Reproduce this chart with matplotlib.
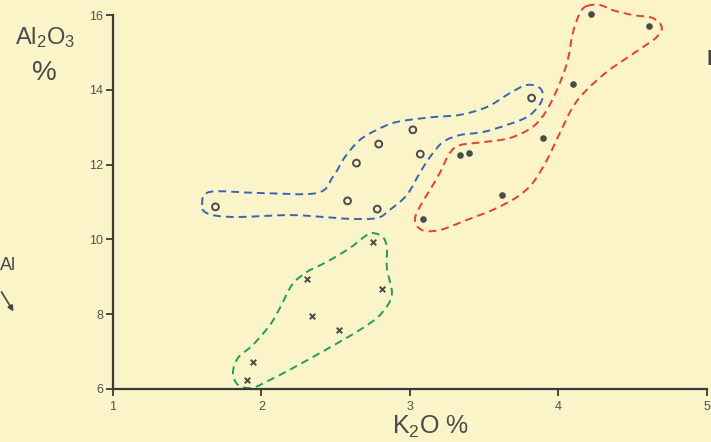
import numpy as np
import matplotlib
matplotlib.use("Agg")
import matplotlib.pyplot as plt
from matplotlib.path import Path
from matplotlib.patches import PathPatch

plt.rcParams["font.family"] = ["Liberation Sans", "DejaVu Sans"]
plt.rcParams["mathtext.default"] = "regular"

# K2O %, Al2O3 %  -- open circles (blue group)
blue_k2o = [1.69, 2.58, 2.64, 2.78, 2.79, 3.02, 3.07, 3.82]
blue_al2o3 = [10.87, 11.03, 12.04, 10.81, 12.55, 12.93, 12.28, 13.78]

# filled dots (red group)
red_k2o = [4.22, 4.61, 4.10, 3.90, 3.34, 3.40, 3.62, 3.09]
red_al2o3 = [16.03, 15.71, 14.16, 12.71, 12.26, 12.31, 11.19, 10.55]

# crosses (green group)
green_k2o = [2.75, 2.31, 2.81, 2.34, 2.52, 1.94, 1.90]
green_al2o3 = [9.93, 8.94, 8.67, 7.95, 7.58, 6.72, 6.24]

# hand drawn group envelopes (K2O, Al2O3)
blue_env_x = [1.599, 1.653, 1.990, 2.374, 2.481, 2.562, 2.663, 2.778, 2.912, 3.155,
              3.337, 3.519, 3.673, 3.788, 3.875, 3.896, 3.862, 3.788, 3.653, 3.492,
              3.337, 3.222, 3.135, 3.067, 2.980, 2.865, 2.778, 2.596, 2.414, 2.192,
              1.855, 1.700, 1.620]
blue_env_y = [10.92, 11.27, 11.24, 11.24, 11.67, 12.20, 12.66, 12.93, 13.14, 13.27,
              13.33, 13.54, 13.91, 14.13, 14.05, 13.81, 13.54, 13.27, 13.06, 12.87,
              12.79, 12.60, 12.20, 11.78, 11.19, 10.79, 10.57, 10.55, 10.60, 10.65,
              10.60, 10.63, 10.73]

red_env_x = [4.192, 4.279, 4.367, 4.502, 4.636, 4.697, 4.663, 4.569, 4.461, 4.327,
             4.192, 4.098, 4.010, 3.923, 3.828, 3.721, 3.559, 3.384, 3.202, 3.081,
             3.034, 3.067, 3.135, 3.202, 3.269, 3.337, 3.492, 3.673, 3.828, 3.923,
             4.010, 4.064, 4.098, 4.145]
red_env_y = [16.24, 16.27, 16.13, 16.00, 15.92, 15.68, 15.41, 15.14, 14.85, 14.48,
             14.00, 13.54, 12.84, 12.12, 11.51, 11.13, 10.79, 10.52, 10.25, 10.25,
             10.52, 10.87, 11.32, 11.78, 12.31, 12.52, 12.60, 12.71, 13.01, 13.46,
             14.18, 14.80, 15.52, 16.05]

green_env_x = [2.744, 2.818, 2.845, 2.845, 2.879, 2.852, 2.778, 2.663, 2.549, 2.394,
               2.212, 2.057, 1.936, 1.842, 1.808, 1.842, 1.943, 2.057, 2.125, 2.205,
               2.306, 2.441, 2.596, 2.683]
green_env_y = [10.17, 10.06, 9.77, 9.24, 8.59, 8.25, 7.90, 7.58, 7.31, 6.96,
               6.56, 6.24, 6.03, 6.11, 6.43, 6.83, 7.18, 7.71, 8.17, 8.78,
               9.13, 9.40, 9.77, 10.04]

x_ticks = [1, 2, 3, 4, 5]
y_ticks = [6, 8, 10, 12, 14, 16]

bg = "#fbf4c9"
ink = "#4a4a48"


def closed_curve(xs, ys):
    # closed smooth outline through the vertices (Catmull-Rom as cubic Bezier)
    p = np.column_stack([xs, ys])
    n = len(p)
    verts = [p[0]]
    codes = [Path.MOVETO]
    for i in range(n):
        p0, p1, p2, p3 = p[i - 1], p[i], p[(i + 1) % n], p[(i + 2) % n]
        verts += [p1 + (p2 - p0) / 6, p2 - (p3 - p1) / 6, p2]
        codes += [Path.CURVE4] * 3
    return Path(verts, codes)


fig = plt.figure(figsize=(7.11, 4.42), dpi=100, facecolor=bg)
ax = fig.add_axes([0.159, 0.120, 0.835, 0.846], facecolor=bg)

for ex, ey, col in [(blue_env_x, blue_env_y, "#3565b5"),
                    (red_env_x, red_env_y, "#ee3b30"),
                    (green_env_x, green_env_y, "#1f9e5a")]:
    ax.add_patch(PathPatch(closed_curve(ex, ey), fill=False, edgecolor=col,
                           lw=1.4, linestyle=(0, (4, 2.6)), clip_on=False))

ax.scatter(blue_k2o, blue_al2o3, s=24, facecolors="none", edgecolors=ink,
           linewidths=1.4, zorder=3, clip_on=False)
ax.scatter(red_k2o, red_al2o3, s=14, color=ink, zorder=3, clip_on=False)
ax.scatter(green_k2o, green_al2o3, s=16, marker="x", color=ink,
           linewidths=1.4, zorder=3, clip_on=False)

ax.set_xlim(1, 5)
ax.set_ylim(6, 16)
ax.set_xticks(x_ticks)
ax.set_yticks(y_ticks)
ax.spines["top"].set_visible(False)
ax.spines["right"].set_visible(False)
for s in ("left", "bottom"):
    ax.spines[s].set_color("#3a3a38")
    ax.spines[s].set_linewidth(1.6)
ax.tick_params(colors="#3a3a38", labelcolor="#505050", labelsize=9,
               width=1.3, length=5, direction="out")
ax.tick_params(axis="y", pad=2)
ax.tick_params(axis="x", pad=4)

lab = "#4a4a4a"
fig.text(0.063, 0.915, "Al$_2$O$_3$", fontsize=17, color=lab, ha="center", va="center")
fig.text(0.062, 0.835, "%", fontsize=20, color=lab, ha="center", va="center")
fig.text(0.606, 0.035, "K$_2$O %", fontsize=18, color=lab, ha="center", va="center")

fig.text(0.0, 0.40, "Al", fontsize=13, color=lab, ha="left", va="center")
ax.annotate("", xy=(0.021, 0.29), xytext=(0.0, 0.345), xycoords="figure fraction",
            arrowprops=dict(arrowstyle="-|>", color="#444", lw=1.2, mutation_scale=8))
fig.text(0.993, 0.865, "I", fontsize=16, color="#444", ha="left", va="center",
         fontweight="bold")

fig.savefig("out.png", dpi=100, facecolor=bg)
